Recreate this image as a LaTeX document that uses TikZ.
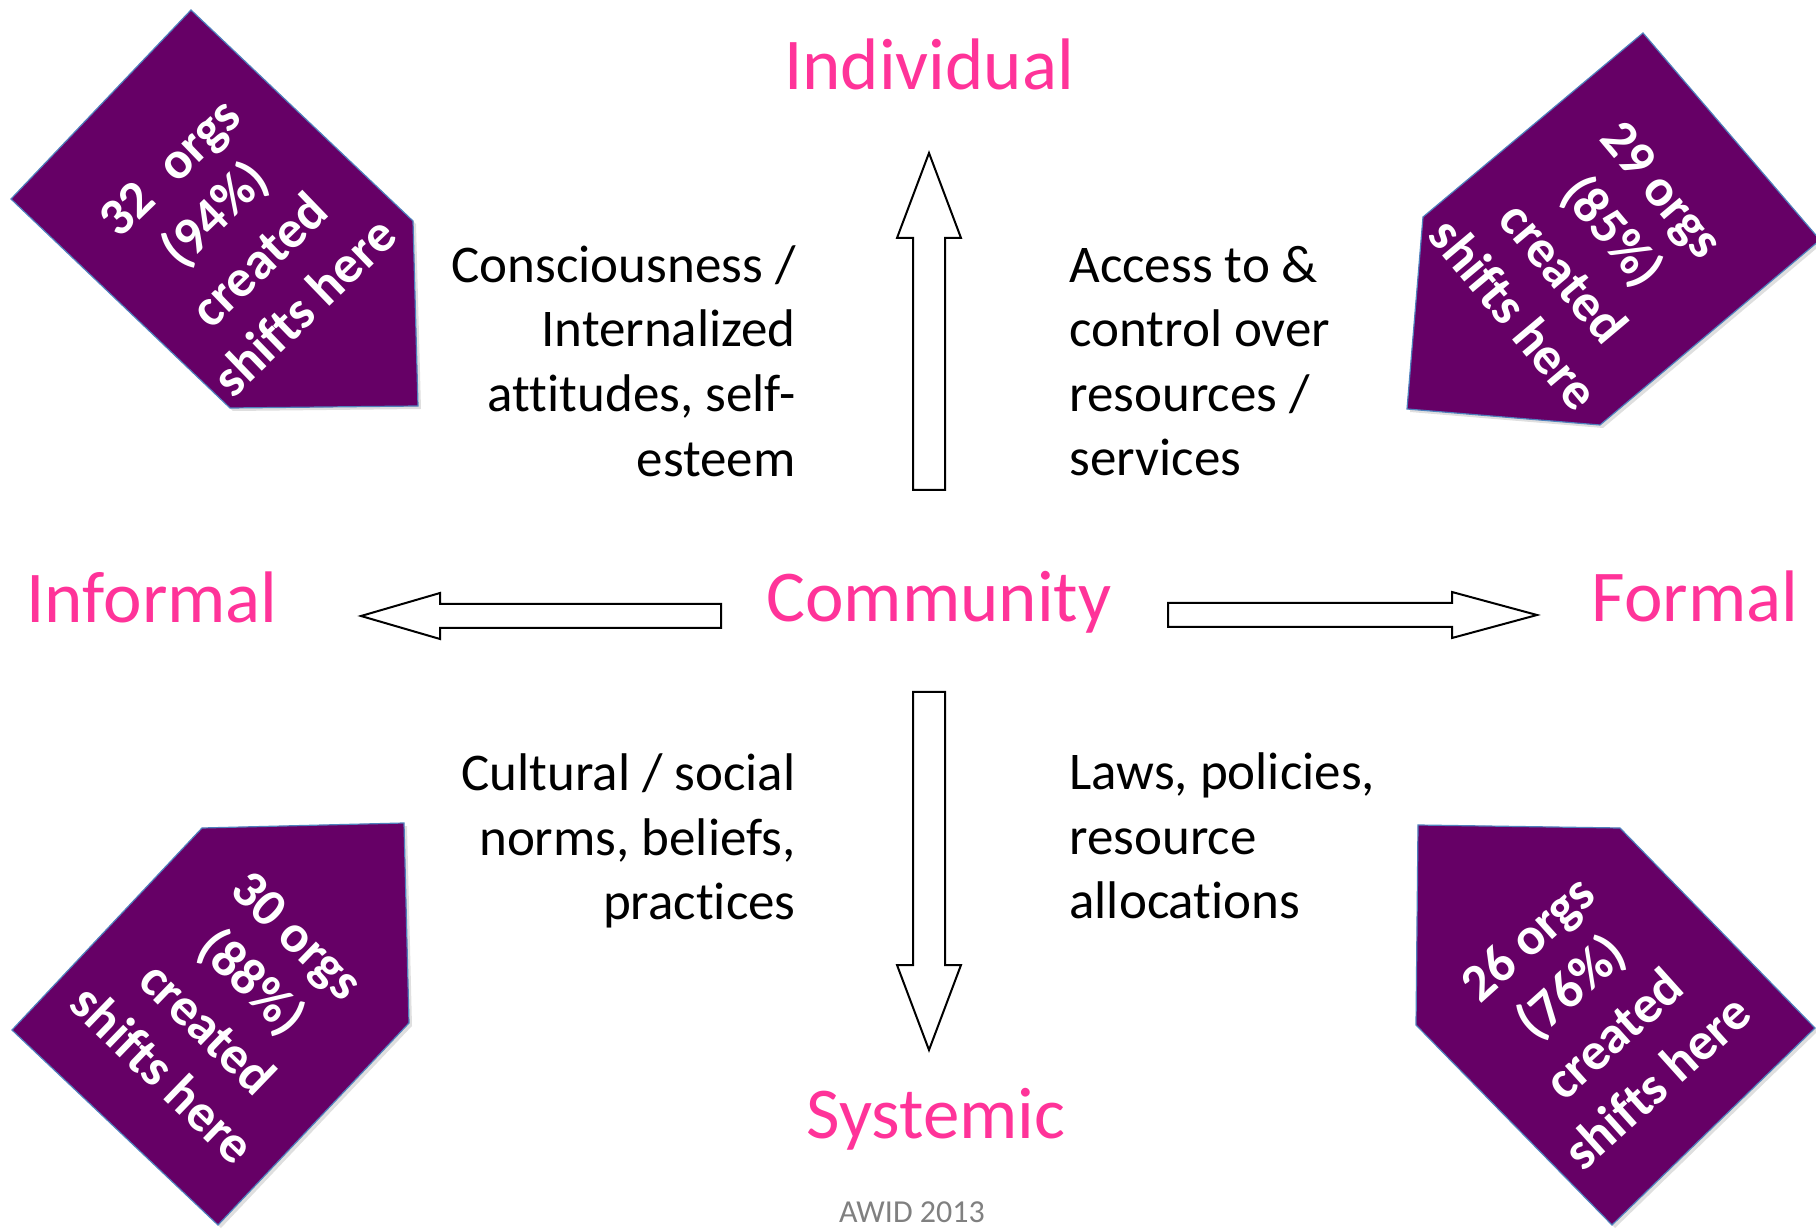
\documentclass[tikz,border=0pt]{standalone}
\usepackage{fontspec}
\setmainfont{Carlito}[Ligatures=NoCommon]
\usetikzlibrary{shadows}
\definecolor{awidpink}{RGB}{255,51,153}
\definecolor{awidpurple}{RGB}{102,0,102}
\definecolor{tagline}{RGB}{79,129,189}

\begin{document}
\begin{tikzpicture}[x=0.5pt, y=-0.5pt,
      axis/.style = {text=awidpink, anchor=base, inner sep=0pt,
        font=\fontsize{36.5}{44}\selectfont},
      note/.style = {inner sep=0pt, font=\fontsize{26.5}{32.3}\selectfont},
      tag/.style = {fill=awidpurple, draw=tagline, line width=0.6pt,
        drop shadow={opacity=0.25, shadow xshift=1.5pt, shadow yshift=-1.5pt}},
      tagtext/.style = {text=white, align=center, inner sep=0pt,
        font=\bfseries\fontsize{26.5}{32.3}\selectfont},
      blockarrow/.style = {draw, line width=1pt, fill=white}]
  \clip (0,0) rectangle (1816,1229);

  \draw[blockarrow] (913,490) -- (913,238) -- (897,238) -- (929,153)
    -- (961,238) -- (945,238) -- (945,490) -- cycle;
  \draw[blockarrow] (913,692) -- (913,965) -- (897,965) -- (929,1050)
    -- (961,965) -- (945,965) -- (945,692) -- cycle;
  \draw[blockarrow] (721,604) -- (440,604) -- (440,593) -- (361,616)
    -- (440,639) -- (440,628) -- (721,628) -- cycle;
  \draw[blockarrow] (1168,603) -- (1452,603) -- (1452,592) -- (1537,615)
    -- (1452,638) -- (1452,627) -- (1168,627) -- cycle;

  \node[axis] (individual) at (929,90) {Individual};
  \node[axis] (informal) at (152,623) {Informal};
  \node[axis] (community) at (939,622) {Community};
  \node[axis] (formal) at (1695,622) {Formal};
  \node[axis] (systemic) at (936,1138) {Systemic};

  \node[note, anchor=east, align=right] (conscious) at (796,361)
    {Consciousness /\\Internalized\\attitudes, self-\\esteem};
  \node[note, anchor=west, align=left] (access) at (1069,361)
    {Access to \&\\control over\\resources /\\services};
  \node[note, anchor=east, align=right] (cultural) at (796,841)
    {Cultural / social\\norms, beliefs,\\practices};
  \node[note, anchor=west, align=left] (laws) at (1069,836)
    {Laws, policies,\\resource\\allocations};

  \draw[tag] (191,10) -- (413,221) -- (418,406) -- (230,408) -- (11,199) -- cycle;
  \node[tagtext, rotate=44] (tagTL) at (237,237)
    {32\enspace orgs\\(94\%)\\created\\shifts here};
  \draw[tag] (1643,33) -- (1820,240) -- (1600,425) -- (1407,409) -- (1423,217) -- cycle;
  \node[tagtext, rotate=-50] (tagTR) at (1588,252)
    {29 orgs\\(85\%)\\created\\shifts here};
  \draw[tag] (202,828) -- (404,823) -- (409,1023) -- (218,1225) -- (12,1030) -- cycle;
  \node[tagtext, rotate=-44] (tagBL) at (230,1005)
    {30 orgs\\(88\%)\\created\\shifts here};
  \draw[tag] (1418,825) -- (1620,828) -- (1815,1028) -- (1612,1225) -- (1416,1025) -- cycle;
  \node[tagtext, rotate=42] (tagBR) at (1592,1010)
    {26 orgs\\(76\%)\\created\\shifts here};

  \node[text=gray, font=\fontsize{16}{19}\selectfont] (awid) at (912,1212) {AWID 2013};
\end{tikzpicture}
\end{document}
